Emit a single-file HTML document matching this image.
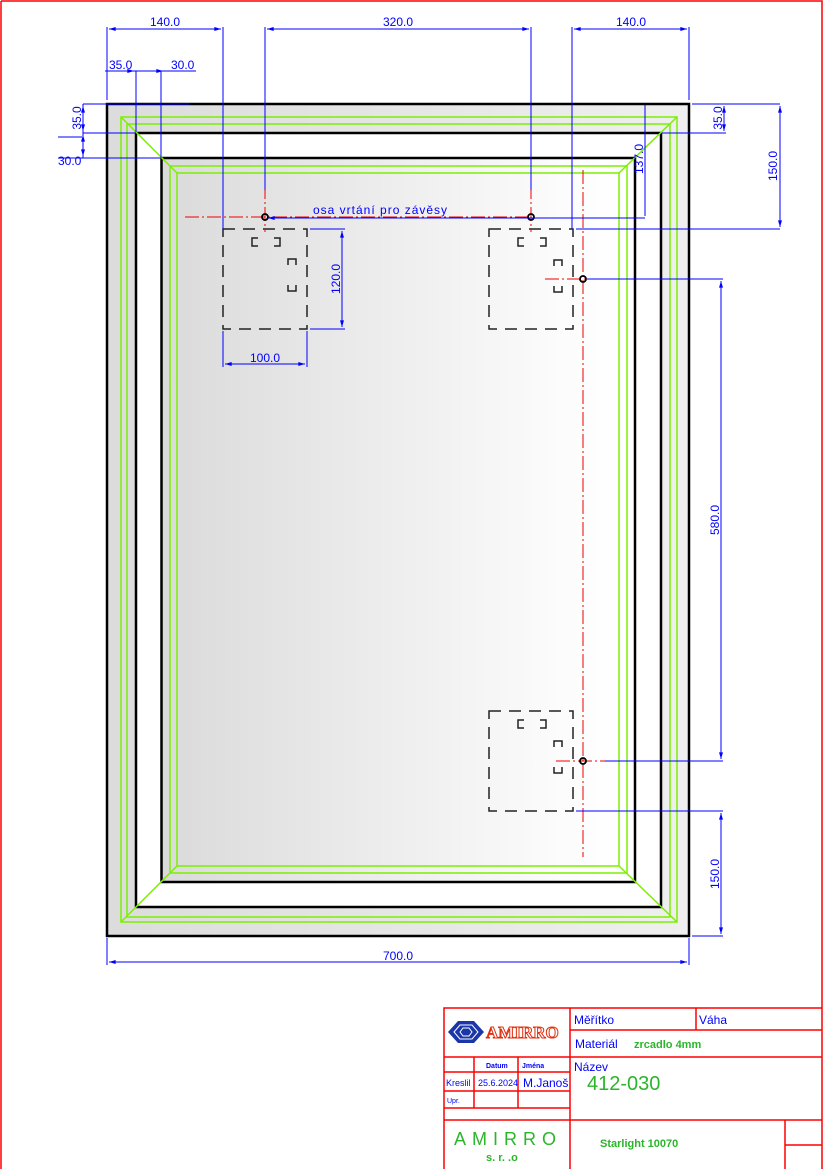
<!DOCTYPE html>
<html><head><meta charset="utf-8"><style>html,body{margin:0;padding:0;background:#fff}svg{display:block}</style></head>
<body>
<svg width="826" height="1169" viewBox="0 0 826 1169" xmlns="http://www.w3.org/2000/svg" font-family="Liberation Sans, DejaVu Sans, sans-serif">
<defs>
<linearGradient id="g1" x1="0" x2="1" y1="0" y2="0"><stop offset="0" stop-color="#dadada"/><stop offset="0.85" stop-color="#fcfcfc"/><stop offset="1" stop-color="#ffffff"/></linearGradient>
<linearGradient id="g2" x1="0" x2="1" y1="0" y2="0"><stop offset="0" stop-color="#dcdcdc"/><stop offset="1" stop-color="#efefef"/></linearGradient>
<marker id="a" viewBox="0 0 10 6" refX="10" refY="3" markerWidth="10" markerHeight="4" orient="auto-start-reverse" markerUnits="userSpaceOnUse"><path d="M0,0L10,3L0,6z" fill="#00f"/></marker>
</defs>
<path d="M1,1H822V1169M1,1V1169" fill="none" stroke="#f00" stroke-width="1.5"/>
<rect x="107" y="104" width="582" height="832" fill="url(#g2)" stroke="#000" stroke-width="2.5"/>
<rect x="136" y="133" width="525" height="774" fill="#fff" stroke="#000" stroke-width="2.5"/>
<rect x="161.5" y="158" width="473.5" height="724" fill="url(#g1)" stroke="#000" stroke-width="2.5"/>
<g fill="none" stroke="#7cf000" stroke-width="1.5">
<rect x="121" y="117" width="556" height="805"/>
<rect x="127" y="124" width="543" height="793"/>
<rect x="170" y="166" width="457" height="707"/>
<rect x="177" y="173" width="442" height="693"/>
<path d="M121,117L177,173M677,117L619,173M121,922L177,866M677,922L619,866"/>
</g>
<g fill="none" stroke="#222" stroke-width="1.5" stroke-dasharray="12,8">
<rect x="223" y="229" width="84" height="100"/>
<rect x="489" y="229" width="84" height="100"/>
<rect x="489" y="711" width="84" height="100"/>
</g>
<g fill="none" stroke="#222" stroke-width="1.5">
<path d="M258,238h-6v8h6M274,238h6v8h-6M288,265v-6h8v6M288,285v6h8v-6"/>
<path d="M524,238h-6v8h6M540,238h6v8h-6M554,266v-6h8v6M554,286v6h8v-6"/>
<path d="M524,720h-6v8h6M540,720h6v8h-6M554,747v-6h8v6M554,767v6h8v-6"/>
</g>
<g stroke="#e00" stroke-width="1" stroke-dasharray="14,3,2,3" fill="none">
<path d="M185,217H531M265,185V232M531,185V232M583,170V857M545,279H605M556,761H605"/>
</g>
<g fill="none" stroke="#000" stroke-width="1.8">
<circle cx="265" cy="217" r="3"/><circle cx="531" cy="217" r="3"/><circle cx="583" cy="279" r="3"/><circle cx="583" cy="761" r="3"/>
</g>
<text x="313" y="214" fill="#00f" font-size="12" letter-spacing="1">osa vrtání pro závěsy</text>
<g stroke="#00f" stroke-width="1" fill="none">
<path d="M107,27V100M223,27V229M265,27V190M531,27V190M572,27V229M689,27V100"/>
<path d="M109,29H221" marker-start="url(#a)" marker-end="url(#a)"/>
<path d="M267,29H529" marker-start="url(#a)" marker-end="url(#a)"/>
<path d="M574,29H687" marker-start="url(#a)" marker-end="url(#a)"/>
<path d="M105,71H196M136,71V132M161,71V158"/>
<path d="M112,71H134" marker-end="url(#a)"/><path d="M163,71H150" marker-start="url(#a)"/>
<path d="M83,104H190M83,133H136M58,158H160M58,137H82M83,104V158"/>
<path d="M83,106V131" marker-start="url(#a)" marker-end="url(#a)"/>
<path d="M83,135V156" marker-start="url(#a)" marker-end="url(#a)"/>
<path d="M692,104H780M662,133H726M576,229H780"/>
<path d="M724,106V131" marker-start="url(#a)" marker-end="url(#a)"/>
<path d="M780,106V227" marker-start="url(#a)" marker-end="url(#a)"/>
<path d="M268,218H645M645,105V216" marker-start="url(#a)"/>
<path d="M310,229H345M310,329H345"/>
<path d="M342,231V327" marker-start="url(#a)" marker-end="url(#a)"/>
<path d="M223,331V367M307,331V367"/>
<path d="M225,364H305" marker-start="url(#a)" marker-end="url(#a)"/>
<path d="M587,279H723M605,761H723M576,811H723M692,936H723"/>
<path d="M721,281V759" marker-start="url(#a)" marker-end="url(#a)"/>
<path d="M721,813V934" marker-start="url(#a)" marker-end="url(#a)"/>
<path d="M107,938V965M689,938V965"/>
<path d="M109,962H687" marker-start="url(#a)" marker-end="url(#a)"/>
</g>
<g fill="#00f" font-size="12">
<text x="165" y="26" text-anchor="middle">140.0</text>
<text x="398" y="26" text-anchor="middle">320.0</text>
<text x="631" y="26" text-anchor="middle">140.0</text>
<text x="109" y="69">35.0</text>
<text x="171" y="69">30.0</text>
<text x="58" y="165">30.0</text>
<text x="398" y="960" text-anchor="middle">700.0</text>
<text transform="translate(81,118) rotate(-90)" text-anchor="middle">35.0</text>
<text transform="translate(722,118) rotate(-90)" text-anchor="middle">35.0</text>
<text transform="translate(777,166) rotate(-90)" text-anchor="middle">150.0</text>
<text transform="translate(643,159) rotate(-90)" text-anchor="middle">137.0</text>
<text transform="translate(340,279) rotate(-90)" text-anchor="middle">120.0</text>
<text transform="translate(719,520) rotate(-90)" text-anchor="middle">580.0</text>
<text transform="translate(719,874) rotate(-90)" text-anchor="middle">150.0</text>
<text x="265" y="362" text-anchor="middle">100.0</text>
</g>
<g stroke="#f00" stroke-width="1.5" fill="none">
<path d="M444,1169V1008H822M570,1008V1169M570,1030H822M696,1008V1030M444,1057H822M444,1072H570M444,1091H570M444,1108H570M444,1120H822M474,1057V1108M518,1057V1108M785,1120V1169M785,1145H822"/>
</g>
<g fill="#1a36a8"><path d="M448,1032L458,1021H474L484,1032L474,1043H458Z"/></g>
<g fill="none" stroke="#fff" stroke-width="1"><path d="M454,1032L460,1025H472L478,1032L472,1039H460Z M460,1032L463,1028H469L472,1032L469,1036H463Z"/></g>
<text x="486" y="1038" fill="#fff" stroke="#e03010" stroke-width="1" font-family="Liberation Serif, serif" font-size="17" font-weight="bold">AMIRRO</text>
<g fill="#00f" font-size="12">
<text x="574" y="1024">Měřítko</text><text x="699" y="1024">Váha</text>
<text x="575" y="1048">Materiál</text>
<text x="574" y="1071">Název</text>
<text x="486" y="1068" font-size="7" font-weight="bold">Datum</text>
<text x="522" y="1068" font-size="7" font-weight="bold">Jména</text>
<text x="446" y="1086" font-size="9">Kreslil</text>
<text x="478" y="1086" font-size="9">25.6.2024</text>
<text x="523" y="1087" font-size="12">M.Janoš</text>
<text x="447" y="1103" font-size="7">Upr.</text>
</g>
<g fill="#2bb52b" font-weight="bold">
<text x="634" y="1048" font-size="11">zrcadlo 4mm</text>
<text x="600" y="1147" font-size="11">Starlight 10070</text>
</g>
<text x="587" y="1090" fill="#2bb52b" font-size="20">412-030</text>
<text x="454" y="1145" fill="#2bb52b" font-size="18" textLength="102" lengthAdjust="spacing">AMIRRO</text>
<text x="486" y="1161" fill="#2bb52b" font-size="11" font-weight="bold">s. r. .o</text>
</svg>
</body></html>
